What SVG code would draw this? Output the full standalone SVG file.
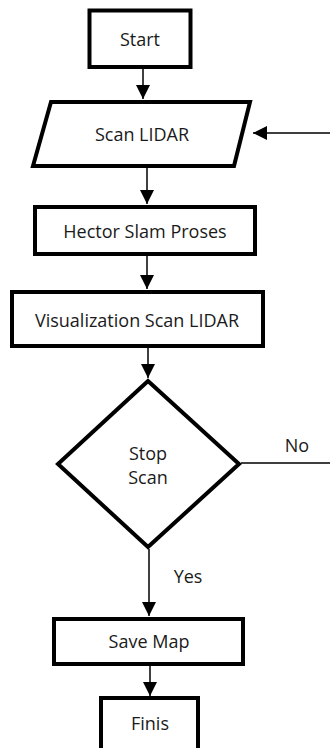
<svg xmlns="http://www.w3.org/2000/svg" width="330" height="748" viewBox="0 0 330 748">
<style>
.n{fill:#fff;stroke:#000;stroke-width:4;stroke-linejoin:miter}
.t{font-family:"Open Sans","Liberation Sans",sans-serif;font-size:18px;fill:#1a1a1a;text-anchor:middle}
.c{fill:none;stroke:#000;stroke-width:1.5}
</style>
<defs>
<marker id="ah" viewBox="0 0 14 14" refX="14" refY="7" markerWidth="14" markerHeight="14" markerUnits="userSpaceOnUse" orient="auto">
<path d="M0,0 L14,7 L0,14 z" fill="#000"/>
</marker>
</defs>
<rect width="330" height="748" fill="#fff"/>
<g id="connectors">
<line class="c" x1="143" y1="68" x2="143" y2="99" marker-end="url(#ah)"/>
<line class="c" x1="147" y1="168" x2="147" y2="204" marker-end="url(#ah)"/>
<line class="c" x1="147" y1="256" x2="147" y2="289" marker-end="url(#ah)"/>
<line class="c" x1="148" y1="348" x2="148" y2="378" marker-end="url(#ah)"/>
<line class="c" x1="149" y1="549" x2="149" y2="616" marker-end="url(#ah)"/>
<line class="c" x1="150" y1="666" x2="150" y2="696" marker-end="url(#ah)"/>
<polyline class="c" points="241,463 333,463 333,133 253,133" marker-end="url(#ah)"/>
<text class="t" x="297" y="452">No</text>
<text class="t" x="188" y="583">Yes</text>
</g>
<g id="start">
<rect class="n" x="89.5" y="10.5" width="101" height="56.5"/>
<text class="t" x="140" y="46">Start</text>
</g>
<g id="scan">
<polygon class="n" points="51,102 250,102 234,166 33,166"/>
<text class="t" x="142" y="141">Scan LIDAR</text>
</g>
<g id="hector">
<rect class="n" x="35" y="207" width="220" height="47"/>
<text class="t" x="145" y="238">Hector Slam Proses</text>
</g>
<g id="vis">
<rect class="n" x="12" y="292" width="251" height="54"/>
<text class="t" x="137" y="327">Visualization Scan LIDAR</text>
</g>
<g id="stop">
<polygon class="n" points="148,381 239,464 148,547 58,464"/>
<text class="t" x="148" y="460">Stop</text>
<text class="t" x="148" y="484">Scan</text>
</g>
<g id="save">
<rect class="n" x="54" y="619" width="189" height="45"/>
<text class="t" x="149" y="648">Save Map</text>
</g>
<g id="finis">
<rect class="n" x="101" y="698" width="97" height="53"/>
<text class="t" x="150" y="730">Finis</text>
</g>
</svg>
